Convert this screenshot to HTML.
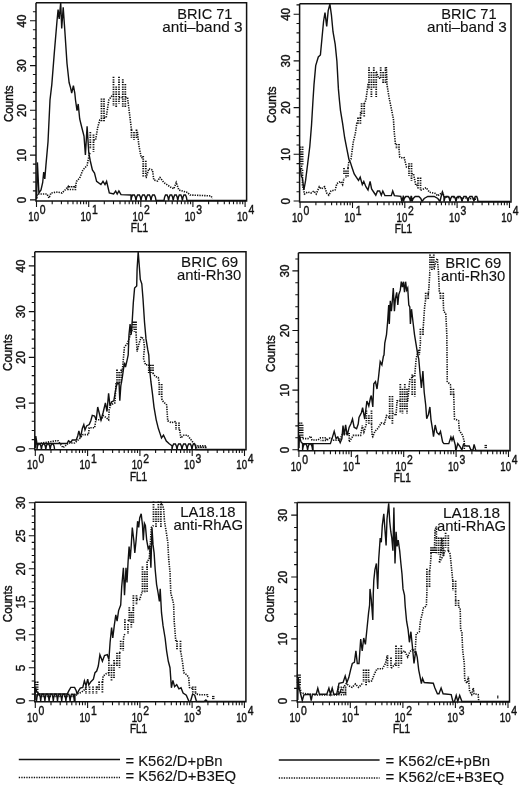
<!DOCTYPE html><html><head><meta charset="utf-8"><title>Figure</title>
<style>html,body{margin:0;padding:0;background:#fff}svg{display:block;filter:blur(.35px)}text{font-family:"Liberation Sans", sans-serif;fill:#111;stroke:#111;stroke-width:.4px}.t{stroke-width:.12px}</style></head><body>
<svg width="520" height="786" viewBox="0 0 520 786">
<rect width="520" height="786" fill="#fff"/>
<g>
<polyline points="36.6,198 37.4,194 47,194 49,198 51,193 57.5,192 62,193 65,190 68,186.7 68,189.5 75.5,189.5 75.5,186.7 68,186.7 75.5,186.7 76.5,181.4 79.7,178 82.9,170 87,165.6 89.2,155 90.3,152" fill="none" stroke="#111" stroke-width="1.6" stroke-dasharray="1.3 1.1"/>
<polyline points="93.5,140 95.6,140 97.7,127.5 99.8,120 101.5,120" fill="none" stroke="#111" stroke-width="1.6" stroke-dasharray="1.3 1.1"/>
<polyline points="104,117.5 106.2,117.5 108.8,100 112.5,95 113.5,95" fill="none" stroke="#111" stroke-width="1.6" stroke-dasharray="1.3 1.1"/>
<polyline points="119,97.5 121.2,97.5 122.8,97.5" fill="none" stroke="#111" stroke-width="1.6" stroke-dasharray="1.3 1.1"/>
<polyline points="125.3,97.5 127.5,97.5 130,117.5 131.5,130" fill="none" stroke="#111" stroke-width="1.6" stroke-dasharray="1.3 1.1"/>
<polyline points="136.5,132.5 137.5,132.5 138.8,145 141.2,157.5 143.2,158" fill="none" stroke="#111" stroke-width="1.6" stroke-dasharray="1.3 1.1"/>
<polyline points="145.8,177.5 146.2,177.5 148.8,168.8 152.5,170 153.8,180 157.5,181 160,177.5 163.8,182.5 167.5,185 171.2,187.5 173.8,188.8 176.2,182.5 178.8,190 182.5,191 187.5,192.5 190,195 208.8,195.8 211,196 212.5,198.5" fill="none" stroke="#111" stroke-width="1.6" stroke-dasharray="1.3 1.1"/>
<path d="M90.3 132V149.1M93.5 134.4V152M101.5 98.4V121.6M104 98.4V122M113.5 76.8V105.9M116.2 86.4V108M119 76.8V103.8M122.8 79.2V106.8M125.3 84V108M131.5 129.6V137.8M134 132V140M136.5 129.6V138.2M143.2 156V177.3M145.8 160.8V177.5" fill="none" stroke="#111" stroke-width="1.8" stroke-dasharray="1.3 1.1"/>
<polyline points="36.6,199 37.4,162.4 38.9,193 41,190 42.7,182.5 43.7,172 44.8,179 45.9,165.6 48,142 49,121 50,100 51.8,84.6 54.3,52.9 57,21 58.1,9.5 59.2,19 60.7,2.5 61.7,28.5 63.2,7.4 64.9,31.7 67,63.5 69.1,82.5 70.6,87.8 71.7,93 73.4,85.7 74.8,93 75.5,100 77,110.6 78.2,104 79.7,119 81.8,127.5 84,136 85.4,155 87.1,126.4 88.8,153 90.3,161 92.4,170 94.5,173 96.6,181.4 100.9,184.6 103,181.4 105,184.6 106.6,181.4 109.3,193 113.6,194 115.7,191 117.2,194 118.9,191 121,194.6 131,195 131,200.5 131.6,197.2 132.6,195 134.4,195 135.4,197.2 136,200.5 136,200.5 136.6,197.2 137.6,195 139.4,195 140.4,197.2 141,200.5 141,200.5 141.6,197.2 142.6,195 144.4,195 145.4,197.2 146,200.5 146,200.5 146.6,197.2 147.6,195 149.4,195 150.4,197.2 151,200.5 151,200.5 151.6,197.2 152.6,195 154.4,195 155.4,197.2 156,200.5 156,200.5 164,200.5 164,200.5 164.6,197.2 165.5,195 167.1,195 168,197.2 168.6,200.5 168.6,200.5 169.2,197.2 170.1,195 171.7,195 172.6,197.2 173.2,200.5 173.2,200.5 173.8,197.2 174.7,195 176.3,195 177.2,197.2 177.8,200.5 177.8,200.5 178.4,197.2 179.3,195 180.9,195 181.8,197.2 182.4,200.5 182.4,200.5 183,197.2 183.9,195 185.5,195 186.4,197.2 187,200.5 187,200.5 246,200.5" fill="none" stroke="#111" stroke-width="1.4" stroke-linejoin="miter"/>
<path d="M36 2.8V200.9H246.6V2.8H36" fill="none" stroke="#111" stroke-width="1.5"/>
<path d="M36 199.9h-6M36 190.9h-3.1M36 182h-3.1M36 173h-3.1M36 164.1h-3.1M36 155.1h-6M36 146.2h-3.1M36 137.2h-3.1M36 128.3h-3.1M36 119.3h-3.1M36 110.3h-6M36 101.4h-3.1M36 92.4h-3.1M36 83.5h-3.1M36 74.5h-3.1M36 65.6h-6M36 56.6h-3.1M36 47.6h-3.1M36 38.7h-3.1M36 29.7h-3.1M36 20.8h-6M36 11.8h-3.1" stroke="#111" stroke-width="1.1" fill="none"/>
<path d="M36.5 200.9v6.2M52.2 200.9v3.4M61.4 200.9v3.4M67.9 200.9v3.4M73 200.9v3.4M77.1 200.9v3.4M80.6 200.9v3.4M83.6 200.9v3.4M86.3 200.9v3.4M88.7 200.9v6.2M104.3 200.9v3.4M113.5 200.9v3.4M120 200.9v3.4M125.1 200.9v3.4M129.2 200.9v3.4M132.7 200.9v3.4M135.7 200.9v3.4M138.4 200.9v3.4M140.8 200.9v6.2M156.5 200.9v3.4M165.7 200.9v3.4M172.2 200.9v3.4M177.3 200.9v3.4M181.4 200.9v3.4M184.9 200.9v3.4M187.9 200.9v3.4M190.6 200.9v3.4M192.9 200.9v6.2M208.6 200.9v3.4M217.8 200.9v3.4M224.3 200.9v3.4M229.4 200.9v3.4M233.5 200.9v3.4M237 200.9v3.4M240 200.9v3.4M242.7 200.9v3.4M245.1 200.9v6.2" stroke="#111" stroke-width="1.1" fill="none"/>
<text x="39.1" y="220.6" font-size="12.2" textLength="10.8" lengthAdjust="spacingAndGlyphs" text-anchor="end">10</text>
<text x="39.8" y="214" font-size="12" textLength="5.8" lengthAdjust="spacingAndGlyphs">0</text>
<text x="91.2" y="220.6" font-size="12.2" textLength="10.8" lengthAdjust="spacingAndGlyphs" text-anchor="end">10</text>
<text x="92" y="214" font-size="12" textLength="5.8" lengthAdjust="spacingAndGlyphs">1</text>
<text x="143.4" y="220.6" font-size="12.2" textLength="10.8" lengthAdjust="spacingAndGlyphs" text-anchor="end">10</text>
<text x="144.1" y="214" font-size="12" textLength="5.8" lengthAdjust="spacingAndGlyphs">2</text>
<text x="195.5" y="220.6" font-size="12.2" textLength="10.8" lengthAdjust="spacingAndGlyphs" text-anchor="end">10</text>
<text x="196.2" y="214" font-size="12" textLength="5.8" lengthAdjust="spacingAndGlyphs">3</text>
<text x="247.7" y="220.6" font-size="12.2" textLength="10.8" lengthAdjust="spacingAndGlyphs" text-anchor="end">10</text>
<text x="248.4" y="214" font-size="12" textLength="5.8" lengthAdjust="spacingAndGlyphs">4</text>
<text x="130.8" y="232.2" font-size="12" textLength="17.2" lengthAdjust="spacingAndGlyphs">FL1</text>
<text transform="translate(26.1 200.1) rotate(-90) scale(.935 1)" font-size="12.4" text-anchor="middle">0</text>
<text transform="translate(26.1 155.3) rotate(-90) scale(.935 1)" font-size="12.4" text-anchor="middle">10</text>
<text transform="translate(26.1 110.5) rotate(-90) scale(.935 1)" font-size="12.4" text-anchor="middle">20</text>
<text transform="translate(26.1 65.8) rotate(-90) scale(.935 1)" font-size="12.4" text-anchor="middle">30</text>
<text transform="translate(26.1 21) rotate(-90) scale(.935 1)" font-size="12.4" text-anchor="middle">40</text>
<text transform="translate(12.7 103.7) rotate(-90) scale(.935 1)" font-size="12.4" text-anchor="middle">Counts</text>
<text class="t" x="177.3" y="18.7" font-size="15" textLength="55.2" lengthAdjust="spacingAndGlyphs">BRIC 71</text>
<text class="t" x="162.3" y="31.7" font-size="15" textLength="80.2" lengthAdjust="spacingAndGlyphs">anti–band 3</text>
</g>
<g>
<polyline points="302.6,169.8 302.4,184.6 304.5,194 307.7,192 310.9,193 314,191 316.2,194 319.3,186.7 321.4,188.9 324.6,186.7 326.7,193 328.8,195.2 331,191 335.2,189.9 336.9,183.6 340.5,181.4 342.6,184.6 344,178" fill="none" stroke="#111" stroke-width="1.6" stroke-dasharray="1.3 1.1"/>
<polyline points="348,168 348.9,161.3 351,159.2 353.2,142.3 355.3,133.8 356.8,123.3 358,123.3" fill="none" stroke="#111" stroke-width="1.6" stroke-dasharray="1.3 1.1"/>
<polyline points="360.4,118 360.6,112.7 361.6,112.7" fill="none" stroke="#111" stroke-width="1.6" stroke-dasharray="1.3 1.1"/>
<polyline points="364.2,104 365.9,100 368,84.6 369,84.6" fill="none" stroke="#111" stroke-width="1.6" stroke-dasharray="1.3 1.1"/>
<polyline points="376.2,72 376.4,72 378.6,78.3 380.7,78.3" fill="none" stroke="#111" stroke-width="1.6" stroke-dasharray="1.3 1.1"/>
<polyline points="385.5,67.7 386.4,67.7 387,84.6 389,97.3 391.3,108.5 393.4,119 394.4,133.8 395.5,144.4 396.5,144.4" fill="none" stroke="#111" stroke-width="1.6" stroke-dasharray="1.3 1.1"/>
<polyline points="399,149 399.7,157 402.9,158.2 404.2,157.7 406.5,167 409,167" fill="none" stroke="#111" stroke-width="1.6" stroke-dasharray="1.3 1.1"/>
<polyline points="411.5,173.8 413.5,173.8 415.8,185.4 418,185.4" fill="none" stroke="#111" stroke-width="1.6" stroke-dasharray="1.3 1.1"/>
<polyline points="420.5,190 421.5,190 426.2,187.7 429.6,192.3 435.4,193.5 437.7,195.8 442.3,192.3 444.6,197 455,197.5 466,198 478,199.5" fill="none" stroke="#111" stroke-width="1.6" stroke-dasharray="1.3 1.1"/>
<path d="M300.4 146.4V164.2M301.5 151.2V169.8M302.6 146.4V164.7M344 168V175.2M346 170.4V178M348 168V177.3M358 117.6V124M360.4 117.6V124M361.6 103.2V115.5M364.2 103.2V117M369 67.2V89.1M371.4 72V97M373.8 67.2V88.3M376.2 72V97M380.7 67.2V79.3M383.1 72V84M385.5 67.2V83M396.5 144V149M399 144V149M409 163.2V176M411.5 163.2V180.8M418 177.6V189.5M420.5 177.6V190" fill="none" stroke="#111" stroke-width="1.8" stroke-dasharray="1.3 1.1"/>
<polyline points="300.3,167.7 301.3,176 302.4,178 303.9,190 305.6,180.4 307.7,163.5 309.8,146.5 311.5,125.4 313,100 314,84.6 315.7,65.6 318.3,57 320.4,55 322,38 323.6,21 325,12.7 326.7,26.4 328.2,10.6 329.9,4.2 331.4,14.8 333,31.7 335.2,44.4 336.9,61.3 338.4,88.9 339.4,100 340.5,110.6 342.6,123.3 344.7,138 346.8,148.7 348.9,159.2 350.4,162.4 352.1,167.7 354.2,174 356.3,177.2 358.5,180.4 360.2,177.2 362.3,184.6 363.8,181.4 365.9,186.7 368,189.9 370.1,181.4 371.6,188.9 374.3,193 375.8,195.2 377.5,191 379.6,191 381.3,195.2 382.8,191 384.9,195.6 391.3,195.6 392.7,191 394.4,195.6 400.8,196.3 401.8,201 403.3,196.3 403.5,196.5 403.5,201.5 404.3,198.5 405.7,196.5 408.3,196.5 409.7,198.5 410.5,201.5 410.5,201.5 410.7,198.5 411,196.5 411.5,196.5 411.8,198.5 412,201.5 412,201.5 413.2,198.5 415.2,196.5 418.8,196.5 420.8,198.5 422,201.5 422,201.5 424.2,198.5 427.8,196.5 434.2,196.5 437.8,198.5 440,201.5 441,197 442.5,192 444,197 444,201.5 444.7,198.5 445.9,196.5 448.1,196.5 449.3,198.5 450,201.5 450,201.5 450.7,198.5 451.9,196.5 454.1,196.5 455.3,198.5 456,201.5 456,201.5 456.7,198.5 457.9,196.5 460.1,196.5 461.3,198.5 462,201.5 462,201.5 462.7,198.5 463.9,196.5 466.1,196.5 467.3,198.5 468,201.5 468,201.5 468.7,198.5 469.9,196.5 472.1,196.5 473.3,198.5 474,201.5 474,201.5 474.5,198.5 475.3,196.5 476.7,196.5 477.5,198.5 478,201.5 478,201.5 510,201.5" fill="none" stroke="#111" stroke-width="1.4" stroke-linejoin="miter"/>
<path d="M299.6 3.8V201.9H511V3.8H299.6" fill="none" stroke="#111" stroke-width="1.5"/>
<path d="M299.6 201h-6M299.6 191.7h-3.1M299.6 182.3h-3.1M299.6 173h-3.1M299.6 163.6h-3.1M299.6 154.3h-6M299.6 145h-3.1M299.6 135.6h-3.1M299.6 126.3h-3.1M299.6 116.9h-3.1M299.6 107.6h-6M299.6 98.3h-3.1M299.6 88.9h-3.1M299.6 79.6h-3.1M299.6 70.2h-3.1M299.6 60.9h-6M299.6 51.6h-3.1M299.6 42.2h-3.1M299.6 32.9h-3.1M299.6 23.5h-3.1M299.6 14.2h-6M299.6 4.9h-3.1" stroke="#111" stroke-width="1.1" fill="none"/>
<path d="M300.1 201.9v6.2M315.9 201.9v3.4M325.1 201.9v3.4M331.6 201.9v3.4M336.7 201.9v3.4M340.8 201.9v3.4M344.3 201.9v3.4M347.4 201.9v3.4M350.1 201.9v3.4M352.5 201.9v6.2M368.2 201.9v3.4M377.4 201.9v3.4M384 201.9v3.4M389 201.9v3.4M393.2 201.9v3.4M396.7 201.9v3.4M399.7 201.9v3.4M402.4 201.9v3.4M404.8 201.9v6.2M420.6 201.9v3.4M429.8 201.9v3.4M436.3 201.9v3.4M441.4 201.9v3.4M445.5 201.9v3.4M449 201.9v3.4M452.1 201.9v3.4M454.8 201.9v3.4M457.1 201.9v6.2M472.9 201.9v3.4M482.1 201.9v3.4M488.7 201.9v3.4M493.7 201.9v3.4M497.9 201.9v3.4M501.4 201.9v3.4M504.4 201.9v3.4M507.1 201.9v3.4M509.5 201.9v6.2" stroke="#111" stroke-width="1.1" fill="none"/>
<text x="302.7" y="221.6" font-size="12.2" textLength="10.8" lengthAdjust="spacingAndGlyphs" text-anchor="end">10</text>
<text x="303.4" y="215" font-size="12" textLength="5.8" lengthAdjust="spacingAndGlyphs">0</text>
<text x="355.1" y="221.6" font-size="12.2" textLength="10.8" lengthAdjust="spacingAndGlyphs" text-anchor="end">10</text>
<text x="355.8" y="215" font-size="12" textLength="5.8" lengthAdjust="spacingAndGlyphs">1</text>
<text x="407.4" y="221.6" font-size="12.2" textLength="10.8" lengthAdjust="spacingAndGlyphs" text-anchor="end">10</text>
<text x="408.1" y="215" font-size="12" textLength="5.8" lengthAdjust="spacingAndGlyphs">2</text>
<text x="459.8" y="221.6" font-size="12.2" textLength="10.8" lengthAdjust="spacingAndGlyphs" text-anchor="end">10</text>
<text x="460.4" y="215" font-size="12" textLength="5.8" lengthAdjust="spacingAndGlyphs">3</text>
<text x="512.1" y="221.6" font-size="12.2" textLength="10.8" lengthAdjust="spacingAndGlyphs" text-anchor="end">10</text>
<text x="512.8" y="215" font-size="12" textLength="5.8" lengthAdjust="spacingAndGlyphs">4</text>
<text x="394.8" y="233.2" font-size="12" textLength="17.2" lengthAdjust="spacingAndGlyphs">FL1</text>
<text transform="translate(289.7 201.2) rotate(-90) scale(.935 1)" font-size="12.4" text-anchor="middle">0</text>
<text transform="translate(289.7 154.5) rotate(-90) scale(.935 1)" font-size="12.4" text-anchor="middle">10</text>
<text transform="translate(289.7 107.8) rotate(-90) scale(.935 1)" font-size="12.4" text-anchor="middle">20</text>
<text transform="translate(289.7 61.1) rotate(-90) scale(.935 1)" font-size="12.4" text-anchor="middle">30</text>
<text transform="translate(289.7 14.4) rotate(-90) scale(.935 1)" font-size="12.4" text-anchor="middle">40</text>
<text transform="translate(276.3 104.7) rotate(-90) scale(.935 1)" font-size="12.4" text-anchor="middle">Counts</text>
<text class="t" x="441.3" y="18.8" font-size="15" textLength="55.3" lengthAdjust="spacingAndGlyphs">BRIC 71</text>
<text class="t" x="426.9" y="31.7" font-size="15" textLength="79.9" lengthAdjust="spacingAndGlyphs">anti–band 3</text>
</g>
<g>
<polyline points="36,444 56,440.8 58,440.8 63,447.7 68.5,443 74.6,443 79.2,439 83,434.6 88.5,434.6 89.2,427.7 94.6,427.7 95.9,419.8 101.2,419.8 103.3,415.6 106.4,417.7 108.6,419.8 109.2,409.2 110.7,405 114.9,402.9 116,383.8 117,383.8" fill="none" stroke="#111" stroke-width="1.6" stroke-dasharray="1.3 1.1"/>
<polyline points="121.2,371 122.3,371 123.4,358.5 124.4,347.3 127.6,343 129.7,336.7 131.8,330.4 132.9,330.4" fill="none" stroke="#111" stroke-width="1.6" stroke-dasharray="1.3 1.1"/>
<polyline points="136,332 136,332.5 137.1,351.5 139.2,343 141.3,336.7 143.5,338.9 144.5,347.3 143.5,358.5 145.6,364.8 148.8,365" fill="none" stroke="#111" stroke-width="1.6" stroke-dasharray="1.3 1.1"/>
<polyline points="153,373 153,373.3 155.1,376.4 158.3,377.5 159.3,384" fill="none" stroke="#111" stroke-width="1.6" stroke-dasharray="1.3 1.1"/>
<polyline points="161.7,398.7 162.5,400.8 166.7,405 167.7,420.8 171.2,422.7 175,421.7 176,423" fill="none" stroke="#111" stroke-width="1.6" stroke-dasharray="1.3 1.1"/>
<polyline points="179,430 179.8,430.4 180.8,438 183.7,435.2 187.5,435.2 190.4,439 193.3,442.9 196.2,445.8 205.8,445.8 205.8,447.3 196.2,447.3 205.8,447.3 205.8,449" fill="none" stroke="#111" stroke-width="1.6" stroke-dasharray="1.3 1.1"/>
<path d="M117 369.6V383.8M119.1 372V384M121.2 369.6V382.7M132.9 321.6V329.1M134.4 321.6V332M136 321.6V331.8M148.8 364.8V372.9M150.9 364.8V373M153 364.8V372.6M159.3 384V394.9M161.7 384V398.7M176 422.4V430M179 422.4V430" fill="none" stroke="#111" stroke-width="1.8" stroke-dasharray="1.3 1.1"/>
<polyline points="35.2,448 35.8,436 36.9,443 37,443.5 54.6,443.5 67,443.5 68.5,440.8 70.8,442.3 72.3,440 76.2,440 77.7,436 78.9,430.8 80.5,437.7 82.3,428.5 83.8,424.6 85,430 86.6,426 89.2,424.6 90.8,420.8 92.3,415.4 94.6,416 96.2,420 97.7,407 99.2,413 101,420 103,413 105.4,403 107,411.5 108.6,393.4 110,406 111.7,401.8 113.8,400.8 116,388 117,383.8 119.1,383.8 119.8,400.8 120.8,386 122.3,377.5 124.4,362.7 125.5,367 127,360.6 128.2,355 129,334.6 130.1,324 131.2,334.6 132.3,319.8 133.3,302.9 134.6,288 136.7,286 137.1,269 138.2,251.7 139.2,264.8 140.3,279.6 141.8,283.8 143,298.7 144.5,322 146,338.9 147.7,349.4 148.8,355 149.4,367 150.9,381.7 152.3,392.3 154,407.1 156.2,419.8 158.3,428.3 160.4,434.6 161.5,438 163.5,435.2 166.3,441 169.2,443.8 172,445.8 172,449.5 172.6,446.2 173.6,444 175.4,444 176.4,446.2 177,449.5 177,449.5 177.6,446.2 178.6,444 180.4,444 181.4,446.2 182,449.5 182,449.5 182.6,446.2 183.6,444 185.4,444 186.4,446.2 187,449.5 187,449.5 187.6,446.2 188.6,444 190.4,444 191.4,446.2 192,449.5 192,449.5 192.5,446.2 193.3,444 194.7,444 195.5,446.2 196,449.5 196,449.5 245,449.5" fill="none" stroke="#111" stroke-width="1.4" stroke-linejoin="miter"/>
<polyline points="37,443.5 37,449.5 37.5,446.2 38.4,444 40,444 40.9,446.2 41.4,449.5 41.4,449.5 41.9,446.2 42.8,444 44.4,444 45.3,446.2 45.8,449.5 45.8,449.5 46.3,446.2 47.2,444 48.8,444 49.7,446.2 50.2,449.5 50.2,449.5 50.7,446.2 51.6,444 53.2,444 54.1,446.2 54.6,449.5" fill="none" stroke="#111" stroke-width="1.4" stroke-linejoin="miter"/>
<path d="M34.8 251.8V449.7H246V251.8H34.8" fill="none" stroke="#111" stroke-width="1.5"/>
<path d="M34.8 448.8h-6M34.8 439.6h-3.1M34.8 430.5h-3.1M34.8 421.3h-3.1M34.8 412.2h-3.1M34.8 403.1h-6M34.8 393.9h-3.1M34.8 384.8h-3.1M34.8 375.6h-3.1M34.8 366.5h-3.1M34.8 357.4h-6M34.8 348.2h-3.1M34.8 339.1h-3.1M34.8 329.9h-3.1M34.8 320.8h-3.1M34.8 311.6h-6M34.8 302.5h-3.1M34.8 293.4h-3.1M34.8 284.2h-3.1M34.8 275.1h-3.1M34.8 265.9h-6M34.8 256.8h-3.1" stroke="#111" stroke-width="1.1" fill="none"/>
<path d="M35.3 449.7v6.2M51 449.7v3.4M60.3 449.7v3.4M66.8 449.7v3.4M71.9 449.7v3.4M76 449.7v3.4M79.5 449.7v3.4M82.5 449.7v3.4M85.2 449.7v3.4M87.6 449.7v6.2M103.3 449.7v3.4M112.6 449.7v3.4M119.1 449.7v3.4M124.2 449.7v3.4M128.3 449.7v3.4M131.8 449.7v3.4M134.8 449.7v3.4M137.5 449.7v3.4M139.9 449.7v6.2M155.6 449.7v3.4M164.9 449.7v3.4M171.4 449.7v3.4M176.5 449.7v3.4M180.6 449.7v3.4M184.1 449.7v3.4M187.1 449.7v3.4M189.8 449.7v3.4M192.2 449.7v6.2M207.9 449.7v3.4M217.2 449.7v3.4M223.7 449.7v3.4M228.8 449.7v3.4M232.9 449.7v3.4M236.4 449.7v3.4M239.4 449.7v3.4M242.1 449.7v3.4M244.5 449.7v6.2" stroke="#111" stroke-width="1.1" fill="none"/>
<text x="37.9" y="469.4" font-size="12.2" textLength="10.8" lengthAdjust="spacingAndGlyphs" text-anchor="end">10</text>
<text x="38.6" y="462.8" font-size="12" textLength="5.8" lengthAdjust="spacingAndGlyphs">0</text>
<text x="90.2" y="469.4" font-size="12.2" textLength="10.8" lengthAdjust="spacingAndGlyphs" text-anchor="end">10</text>
<text x="90.9" y="462.8" font-size="12" textLength="5.8" lengthAdjust="spacingAndGlyphs">1</text>
<text x="142.5" y="469.4" font-size="12.2" textLength="10.8" lengthAdjust="spacingAndGlyphs" text-anchor="end">10</text>
<text x="143.2" y="462.8" font-size="12" textLength="5.8" lengthAdjust="spacingAndGlyphs">2</text>
<text x="194.8" y="469.4" font-size="12.2" textLength="10.8" lengthAdjust="spacingAndGlyphs" text-anchor="end">10</text>
<text x="195.5" y="462.8" font-size="12" textLength="5.8" lengthAdjust="spacingAndGlyphs">3</text>
<text x="247.1" y="469.4" font-size="12.2" textLength="10.8" lengthAdjust="spacingAndGlyphs" text-anchor="end">10</text>
<text x="247.8" y="462.8" font-size="12" textLength="5.8" lengthAdjust="spacingAndGlyphs">4</text>
<text x="129.9" y="481" font-size="12" textLength="17.2" lengthAdjust="spacingAndGlyphs">FL1</text>
<text transform="translate(24.9 448.9) rotate(-90) scale(.935 1)" font-size="12.4" text-anchor="middle">0</text>
<text transform="translate(24.9 403.2) rotate(-90) scale(.935 1)" font-size="12.4" text-anchor="middle">10</text>
<text transform="translate(24.9 357.6) rotate(-90) scale(.935 1)" font-size="12.4" text-anchor="middle">20</text>
<text transform="translate(24.9 311.8) rotate(-90) scale(.935 1)" font-size="12.4" text-anchor="middle">30</text>
<text transform="translate(24.9 266.1) rotate(-90) scale(.935 1)" font-size="12.4" text-anchor="middle">40</text>
<text transform="translate(11.5 352.6) rotate(-90) scale(.935 1)" font-size="12.4" text-anchor="middle">Counts</text>
<text class="t" x="181.1" y="267.2" font-size="15" textLength="57.2" lengthAdjust="spacingAndGlyphs">BRIC 69</text>
<text class="t" x="176.9" y="280.3" font-size="15" textLength="64.3" lengthAdjust="spacingAndGlyphs">anti-Rh30</text>
</g>
<g>
<polyline points="302.6,438.6 302.6,438.6 308,438.6 310.8,436.2 312,440 318,440 320.6,437.8 326.3,437.8 326.3,440.5 320.6,440.5 326.3,440.5 330,438 333.7,440.3 339.4,440.3 342.7,433.7 349.2,433.7 349.2,442 353.3,435.4 360.6,435.4 362.3,425.6 363.9,432 366.4,424" fill="none" stroke="#111" stroke-width="1.6" stroke-dasharray="1.3 1.1"/>
<polyline points="371.5,424 372.1,435.4 372.8,436.7 374.9,431.4 378,428.3 381.3,423 384.4,424 386.5,415.6 389.7,417.7 389.7,417.7" fill="none" stroke="#111" stroke-width="1.6" stroke-dasharray="1.3 1.1"/>
<polyline points="392.4,413.5 394,413.5 396,415.6 397.1,400.8 400.3,400.8 400.3,400.8" fill="none" stroke="#111" stroke-width="1.6" stroke-dasharray="1.3 1.1"/>
<polyline points="407,400.8 407.7,400.8 409.8,379.6 413,376.4 412.2,376.4" fill="none" stroke="#111" stroke-width="1.6" stroke-dasharray="1.3 1.1"/>
<polyline points="414.8,376.4 415.1,371 416.2,358.5 418.3,350 419.3,355 420.4,343 420.4,336" fill="none" stroke="#111" stroke-width="1.6" stroke-dasharray="1.3 1.1"/>
<polyline points="423,330.4 423.6,322 424.6,307 425.7,299" fill="none" stroke="#111" stroke-width="1.6" stroke-dasharray="1.3 1.1"/>
<polyline points="428.2,295 428.9,288 429.9,271 430,271" fill="none" stroke="#111" stroke-width="1.6" stroke-dasharray="1.3 1.1"/>
<polyline points="433.8,269 434.1,269 435.6,262.7 437.3,258.5 438.4,271 439.4,292.3 440.5,294" fill="none" stroke="#111" stroke-width="1.6" stroke-dasharray="1.3 1.1"/>
<polyline points="443.2,300 443.7,311.3 445.8,313.5 446.8,334.6 447.2,370 447.2,381.4 450.4,384.7 450.8,390" fill="none" stroke="#111" stroke-width="1.6" stroke-dasharray="1.3 1.1"/>
<polyline points="453.4,394.5 453.7,394.5 454.5,419 458.6,420.7 459.4,430.5 462.7,435.4 464.3,441.9 464.3,450" fill="none" stroke="#111" stroke-width="1.6" stroke-dasharray="1.3 1.1"/>
<path d="M299.4 422.4V436M300.5 424.8V438.6M301.5 422.4V436.4M302.6 424.8V438.6M366.4 410.4V423M368.9 415.2V424M371.5 410.4V424M389.7 396V419.2M392.4 396V424M400.3 384V413M402.5 388.8V413.5M404.8 384V410.4M407 388.8V413.5M412.2 374.4V396.1M414.8 379.2V396.5M420.4 328.8V336M423 328.8V336M425.7 292.8V299M428.2 292.8V299M430 254.4V269.2M431.9 256.8V271M433.8 254.4V267.5M440.5 292.8V300M443.2 292.8V300M450.8 388.8V396M453.4 388.8V396" fill="none" stroke="#111" stroke-width="1.8" stroke-dasharray="1.3 1.1"/>
<path d="M484.5 445.5L487 445.5" stroke="#1a1a1a" stroke-width="1.2" fill="none"/>
<path d="M484.5 447.5L487 447.5" stroke="#1a1a1a" stroke-width="1.2" fill="none"/>
<polyline points="299,448 299.4,435.4 301,442 302.6,443.6 313,443.6 330.4,443.6 332,438.6 334.2,431.3 336.1,438.6 337.8,437 340.2,442.7 341.9,438.6 343,425.6 344.3,435.4 345.6,424.8 347.2,435.4 349.2,427.2 350.8,424 352.5,419 354.1,427.2 356.6,428.8 358.2,424 359,417.4 361.5,412.5 362.6,407.6 364.7,419 366.9,401 368.8,406 370.5,397.8 371.3,395.5 372.8,407 373.8,383.8 375.5,381.7 377,389 378.5,377.5 380.2,361.6 381.9,364.8 383.4,356.3 384,355 384.8,343 386.5,334.6 387.6,322 388.7,305 389.3,324 390.3,300.8 391.4,311.3 392.5,298.7 393.3,288 394.4,311.3 395.4,298.7 396.7,292.3 397.8,305 398.8,294.4 400.3,290.2 401.3,281.7 402.4,287 403.5,281.7 404.5,292.3 405.6,281.7 406.6,290.2 407.7,288 408.8,305 409.8,307 410.4,324 411.5,309.2 413,322 414.5,334.6 416.2,345.2 417.8,355 418.7,358.5 420,373.3 421.4,388 422.9,371 424.2,392.3 425.7,405 426.7,418.7 428.4,414.5 429.9,407 431,419.8 432.7,430.4 433.5,436.7 435.2,425 436.9,432.5 439,434.6 440.5,431.4 442.6,442 443.9,443.6 448.8,443.6 450.9,437 452,440.3 453.2,437 455.3,445.2 455.8,450.9 457.8,443.6 460.2,446.8 461.9,450 463.5,444.4 466,446 469.2,446 470.9,450 473,450 474.1,444.4 475.8,450.5 509,450.5" fill="none" stroke="#111" stroke-width="1.4" stroke-linejoin="miter"/>
<polyline points="302.6,443.6 302.6,450 303.2,446.4 304.2,444 306,444 307,446.4 307.6,450 307.6,450 308.2,446.4 309.2,444 311,444 312,446.4 312.6,450 312.6,450 312.6,446.4 312.7,444 312.9,444 313,446.4 313,450" fill="none" stroke="#111" stroke-width="1.4" stroke-linejoin="miter"/>
<path d="M298.4 252.8V450.8H510V252.8H298.4" fill="none" stroke="#111" stroke-width="1.5"/>
<path d="M298.4 449.7h-6M298.4 437.8h-3.1M298.4 425.9h-3.1M298.4 413.9h-3.1M298.4 402h-3.1M298.4 390.1h-6M298.4 378.2h-3.1M298.4 366.3h-3.1M298.4 354.3h-3.1M298.4 342.4h-3.1M298.4 330.5h-6M298.4 318.6h-3.1M298.4 306.7h-3.1M298.4 294.7h-3.1M298.4 282.8h-3.1M298.4 270.9h-6M298.4 259h-3.1" stroke="#111" stroke-width="1.1" fill="none"/>
<path d="M298.9 450.8v6.2M314.7 450.8v3.4M323.9 450.8v3.4M330.4 450.8v3.4M335.5 450.8v3.4M339.7 450.8v3.4M343.2 450.8v3.4M346.2 450.8v3.4M348.9 450.8v3.4M351.3 450.8v6.2M367.1 450.8v3.4M376.3 450.8v3.4M382.8 450.8v3.4M387.9 450.8v3.4M392.1 450.8v3.4M395.6 450.8v3.4M398.6 450.8v3.4M401.3 450.8v3.4M403.7 450.8v6.2M419.5 450.8v3.4M428.7 450.8v3.4M435.2 450.8v3.4M440.3 450.8v3.4M444.5 450.8v3.4M448 450.8v3.4M451 450.8v3.4M453.7 450.8v3.4M456.1 450.8v6.2M471.9 450.8v3.4M481.1 450.8v3.4M487.6 450.8v3.4M492.7 450.8v3.4M496.9 450.8v3.4M500.4 450.8v3.4M503.4 450.8v3.4M506.1 450.8v3.4M508.5 450.8v6.2" stroke="#111" stroke-width="1.1" fill="none"/>
<text x="301.5" y="470.5" font-size="12.2" textLength="10.8" lengthAdjust="spacingAndGlyphs" text-anchor="end">10</text>
<text x="302.2" y="463.9" font-size="12" textLength="5.8" lengthAdjust="spacingAndGlyphs">0</text>
<text x="353.9" y="470.5" font-size="12.2" textLength="10.8" lengthAdjust="spacingAndGlyphs" text-anchor="end">10</text>
<text x="354.6" y="463.9" font-size="12" textLength="5.8" lengthAdjust="spacingAndGlyphs">1</text>
<text x="406.3" y="470.5" font-size="12.2" textLength="10.8" lengthAdjust="spacingAndGlyphs" text-anchor="end">10</text>
<text x="407" y="463.9" font-size="12" textLength="5.8" lengthAdjust="spacingAndGlyphs">2</text>
<text x="458.7" y="470.5" font-size="12.2" textLength="10.8" lengthAdjust="spacingAndGlyphs" text-anchor="end">10</text>
<text x="459.4" y="463.9" font-size="12" textLength="5.8" lengthAdjust="spacingAndGlyphs">3</text>
<text x="511.1" y="470.5" font-size="12.2" textLength="10.8" lengthAdjust="spacingAndGlyphs" text-anchor="end">10</text>
<text x="511.8" y="463.9" font-size="12" textLength="5.8" lengthAdjust="spacingAndGlyphs">4</text>
<text x="393.7" y="482.1" font-size="12" textLength="17.2" lengthAdjust="spacingAndGlyphs">FL1</text>
<text transform="translate(288.5 449.9) rotate(-90) scale(.935 1)" font-size="12.4" text-anchor="middle">0</text>
<text transform="translate(288.5 390.3) rotate(-90) scale(.935 1)" font-size="12.4" text-anchor="middle">10</text>
<text transform="translate(288.5 330.7) rotate(-90) scale(.935 1)" font-size="12.4" text-anchor="middle">20</text>
<text transform="translate(288.5 271.1) rotate(-90) scale(.935 1)" font-size="12.4" text-anchor="middle">30</text>
<text transform="translate(275.1 353.6) rotate(-90) scale(.935 1)" font-size="12.4" text-anchor="middle">Counts</text>
<text class="t" x="445.2" y="267.8" font-size="15" textLength="56.2" lengthAdjust="spacingAndGlyphs">BRIC 69</text>
<text class="t" x="440.9" y="281.1" font-size="15" textLength="64.3" lengthAdjust="spacingAndGlyphs">anti-Rh30</text>
</g>
<g>
<polyline points="37.6,692.3 40,696.4 67.2,696.4 74.6,696.4 77,694 81.1,692.3 83.6,690.7 86,687.4 86,687.4" fill="none" stroke="#111" stroke-width="1.6" stroke-dasharray="1.3 1.1"/>
<polyline points="96.5,687.4 97.5,687.4 99.1,687.4" fill="none" stroke="#111" stroke-width="1.6" stroke-dasharray="1.3 1.1"/>
<polyline points="102.4,682.5 103.2,676 106.5,673.5 108.9,672.7 108.9,672.7" fill="none" stroke="#111" stroke-width="1.6" stroke-dasharray="1.3 1.1"/>
<polyline points="114,663.5 116.4,663.5 117,663.5" fill="none" stroke="#111" stroke-width="1.6" stroke-dasharray="1.3 1.1"/>
<polyline points="119.5,652.9 120.7,651" fill="none" stroke="#111" stroke-width="1.6" stroke-dasharray="1.3 1.1"/>
<polyline points="123.2,642.3 123.8,636 124.9,634" fill="none" stroke="#111" stroke-width="1.6" stroke-dasharray="1.3 1.1"/>
<polyline points="128,621 129.1,619 129.3,619" fill="none" stroke="#111" stroke-width="1.6" stroke-dasharray="1.3 1.1"/>
<polyline points="133.3,608.5 133.4,604.2 133.4,604.2" fill="none" stroke="#111" stroke-width="1.6" stroke-dasharray="1.3 1.1"/>
<polyline points="136.5,599.4 139.7,599.4 141.8,593 142.5,593" fill="none" stroke="#111" stroke-width="1.6" stroke-dasharray="1.3 1.1"/>
<polyline points="147.1,567.7 147.1,561.3 149.2,559.2 150.3,544.4 151.3,527.5 153.5,525.4 153.5,525.4" fill="none" stroke="#111" stroke-width="1.6" stroke-dasharray="1.3 1.1"/>
<polyline points="160.9,504.2 160.9,504.2 161.9,503.2 163.6,508.5 164.5,521.2 166.2,531.7 167.8,542.3 168.7,559.2 170,572 170.8,593 172.5,599.4 173.6,604.2 174.2,621.2 175.7,640.2 177,641" fill="none" stroke="#111" stroke-width="1.6" stroke-dasharray="1.3 1.1"/>
<polyline points="180.5,651 181,652.9 182.7,663.5 183.8,672.7 187,675 188.7,677.6 189.5,687.4 192.8,688.5" fill="none" stroke="#111" stroke-width="1.6" stroke-dasharray="1.3 1.1"/>
<polyline points="195.4,692.5 196,694 200.1,694.8 207.5,694.8 207.8,697.2" fill="none" stroke="#111" stroke-width="1.6" stroke-dasharray="1.3 1.1"/>
<path d="M35.4 681.6V691.3M36.5 684V692.3M37.6 681.6V691.8M86 686.4V694M89.5 686.4V694M93 686.4V694M96.5 686.4V694M99.1 681.6V690.4M102.4 681.6V693M108.9 660V676.7M111.5 664.8V680.4M114 660V678.7M117 652.8V666.8M119.5 652.8V668M120.7 640.8V649.9M123.2 643.2V651M124.9 619.2V630.3M128 624V634M129.3 607.2V622.1M131.3 612V627.5M133.3 607.2V622.7M133.4 595.2V603.5M136.5 595.2V605M142.5 566.4V592.5M144.8 571.2V593M147.1 566.4V592.7M153.5 501.6V522.5M156 508.8V527.5M158.4 501.6V523.3M160.9 501.6V527.5M177 640.8V650.1M180.5 640.8V651M192.8 686.4V692.5M195.4 686.4V692.5" fill="none" stroke="#111" stroke-width="1.8" stroke-dasharray="1.3 1.1"/>
<path d="M212 696.5L214.5 696.5" stroke="#1a1a1a" stroke-width="1.2" fill="none"/>
<path d="M212 698.5L214.5 698.5" stroke="#1a1a1a" stroke-width="1.2" fill="none"/>
<polyline points="35,700 35.4,687.4 37,692.3 39.4,694 67.2,694 68.9,690.7 70.8,687.4 74.6,687.4 76.2,690.7 77,694 78.7,690.7 80.3,688.2 82.8,687.4 84.4,680.9 86,685.8 87.7,679.2 88.8,685 90.9,681.7 93.4,679.2 95,672.7 96.7,671 98.3,666 99.9,654.7 102.4,661.2 104.5,655.5 107.3,654.7 108.9,659.6 110.1,642.3 111.6,627.5 112.8,638 114.3,625.4 115.8,614.8 117.1,621.2 118.6,610.6 120.7,605 121.7,586.7 123.4,567.7 124.5,595.2 126,567.7 127,582.5 128.1,561.3 129.1,546.5 130.2,559.2 131.3,544.4 132.3,527.5 133.8,540.2 134.8,552.9 136.1,540.2 137.6,521.2 138.7,527.5 139.7,518 141.2,513.8 142.5,525.4 143.3,540.2 144.4,523.3 145.4,525.4 146.7,540.2 148.2,548.7 149.7,545.5 150.9,567.7 152,527.5 153,544.4 154.1,552.9 155.2,569.8 156.6,584.6 158.1,593 159.4,601.5 160.2,588.9 161.5,612.7 163,625.4 165.1,638 166.6,650.8 168.3,661.3 170,667.7 171.4,687.8 172.9,680.4 174.6,686.7 176.7,684.6 178.9,688.9 181,687.8 183.1,693 186.3,695.2 189,701.5 190.5,701.5 192.6,694 194.7,695.2 196.5,701.5 204,701.5 205.9,700 207.5,701.5 245,701.5" fill="none" stroke="#111" stroke-width="1.4" stroke-linejoin="miter"/>
<polyline points="37,694 36.5,701 37,697 37.8,694.3 39.4,694.3 40.2,697 40.7,701 40.7,701 41.2,697 42,694.3 43.6,694.3 44.4,697 44.9,701 44.9,701 45.4,697 46.2,694.3 47.8,694.3 48.6,697 49.1,701 49.1,701 49.6,697 50.4,694.3 52,694.3 52.8,697 53.3,701 53.3,701 53.8,697 54.6,694.3 56.2,694.3 57,697 57.5,701 57.5,701 58,697 58.8,694.3 60.4,694.3 61.2,697 61.7,701 61.7,701 62.2,697 63,694.3 64.6,694.3 65.4,697 65.9,701 65.9,701 66.4,697 67.2,694.3 68.8,694.3 69.6,697 70.1,701 70.1,701 70.6,697 71.4,694.3 73,694.3 73.8,697 74.3,701 74.3,701 74.4,697 74.5,694.3 74.8,694.3 74.9,697 75,701" fill="none" stroke="#111" stroke-width="1.4" stroke-linejoin="miter"/>
<path d="M34.8 502.2V701.8H245.9V502.2H34.8" fill="none" stroke="#111" stroke-width="1.5"/>
<path d="M34.8 700.8h-6M34.8 694.1h-3.1M34.8 687.5h-3.1M34.8 681h-3.1M34.8 674.4h-3.1M34.8 667.8h-6M34.8 661.1h-3.1M34.8 654.5h-3.1M34.8 648h-3.1M34.8 641.4h-3.1M34.8 634.8h-6M34.8 628.1h-3.1M34.8 621.5h-3.1M34.8 615h-3.1M34.8 608.4h-3.1M34.8 601.8h-6M34.8 595.1h-3.1M34.8 588.5h-3.1M34.8 582h-3.1M34.8 575.4h-3.1M34.8 568.8h-6M34.8 562.1h-3.1M34.8 555.5h-3.1M34.8 549h-3.1M34.8 542.4h-3.1M34.8 535.8h-6M34.8 529.1h-3.1M34.8 522.5h-3.1M34.8 516h-3.1M34.8 509.4h-3.1M34.8 502.8h-6" stroke="#111" stroke-width="1.1" fill="none"/>
<path d="M35.3 701.8v6.2M51 701.8v3.4M60.2 701.8v3.4M66.8 701.8v3.4M71.8 701.8v3.4M76 701.8v3.4M79.5 701.8v3.4M82.5 701.8v3.4M85.2 701.8v3.4M87.6 701.8v6.2M103.3 701.8v3.4M112.5 701.8v3.4M119 701.8v3.4M124.1 701.8v3.4M128.3 701.8v3.4M131.8 701.8v3.4M134.8 701.8v3.4M137.5 701.8v3.4M139.9 701.8v6.2M155.6 701.8v3.4M164.8 701.8v3.4M171.3 701.8v3.4M176.4 701.8v3.4M180.5 701.8v3.4M184 701.8v3.4M187.1 701.8v3.4M189.7 701.8v3.4M192.1 701.8v6.2M207.9 701.8v3.4M217.1 701.8v3.4M223.6 701.8v3.4M228.7 701.8v3.4M232.8 701.8v3.4M236.3 701.8v3.4M239.3 701.8v3.4M242 701.8v3.4M244.4 701.8v6.2" stroke="#111" stroke-width="1.1" fill="none"/>
<text x="37.9" y="721.5" font-size="12.2" textLength="10.8" lengthAdjust="spacingAndGlyphs" text-anchor="end">10</text>
<text x="38.6" y="714.9" font-size="12" textLength="5.8" lengthAdjust="spacingAndGlyphs">0</text>
<text x="90.2" y="721.5" font-size="12.2" textLength="10.8" lengthAdjust="spacingAndGlyphs" text-anchor="end">10</text>
<text x="90.9" y="714.9" font-size="12" textLength="5.8" lengthAdjust="spacingAndGlyphs">1</text>
<text x="142.5" y="721.5" font-size="12.2" textLength="10.8" lengthAdjust="spacingAndGlyphs" text-anchor="end">10</text>
<text x="143.2" y="714.9" font-size="12" textLength="5.8" lengthAdjust="spacingAndGlyphs">2</text>
<text x="194.7" y="721.5" font-size="12.2" textLength="10.8" lengthAdjust="spacingAndGlyphs" text-anchor="end">10</text>
<text x="195.4" y="714.9" font-size="12" textLength="5.8" lengthAdjust="spacingAndGlyphs">3</text>
<text x="247" y="721.5" font-size="12.2" textLength="10.8" lengthAdjust="spacingAndGlyphs" text-anchor="end">10</text>
<text x="247.7" y="714.9" font-size="12" textLength="5.8" lengthAdjust="spacingAndGlyphs">4</text>
<text x="129.9" y="733.1" font-size="12" textLength="17.2" lengthAdjust="spacingAndGlyphs">FL1</text>
<text transform="translate(24.9 701) rotate(-90) scale(.935 1)" font-size="12.4" text-anchor="middle">0</text>
<text transform="translate(24.9 668) rotate(-90) scale(.935 1)" font-size="12.4" text-anchor="middle">5</text>
<text transform="translate(24.9 635) rotate(-90) scale(.935 1)" font-size="12.4" text-anchor="middle">10</text>
<text transform="translate(24.9 602) rotate(-90) scale(.935 1)" font-size="12.4" text-anchor="middle">15</text>
<text transform="translate(24.9 569) rotate(-90) scale(.935 1)" font-size="12.4" text-anchor="middle">20</text>
<text transform="translate(24.9 536) rotate(-90) scale(.935 1)" font-size="12.4" text-anchor="middle">25</text>
<text transform="translate(24.9 502.9) rotate(-90) scale(.935 1)" font-size="12.4" text-anchor="middle">30</text>
<text transform="translate(11.5 603.8) rotate(-90) scale(.935 1)" font-size="12.4" text-anchor="middle">Counts</text>
<text class="t" x="180.2" y="517.2" font-size="15" textLength="55.2" lengthAdjust="spacingAndGlyphs">LA18.18</text>
<text class="t" x="173.4" y="530.3" font-size="15" textLength="69.7" lengthAdjust="spacingAndGlyphs">anti-RhAG</text>
</g>
<g>
<polyline points="300,687.4 301,693 315,695 338,695 338.2,687.4 345.6,687.4 345.6,690 338.2,690 345.6,690 345.6,692.5 338.2,692.5 345.6,692.5 345.6,694.8 338.2,694.8 346.4,683.3 348.8,685.8 352.1,687.4 355.4,684 358.6,687.4 361.9,684 363.6,684" fill="none" stroke="#111" stroke-width="1.6" stroke-dasharray="1.3 1.1"/>
<polyline points="368.5,681.7 368.5,681.7 371.7,680.9 374.9,673 377,668.8 382.3,668.8 385.5,663.5 387,657 387.5,657" fill="none" stroke="#111" stroke-width="1.6" stroke-dasharray="1.3 1.1"/>
<polyline points="391,667.7 391.8,667.7 395.4,663.5 396,663.5" fill="none" stroke="#111" stroke-width="1.6" stroke-dasharray="1.3 1.1"/>
<polyline points="401.3,652.9 401.3,652.9 404.5,650.8 407.7,657 409.8,651.8 413,648.7 415.1,652.9 416.2,633.8 419.3,631.7 420.4,621.2 422.5,612.7 422.9,608.5 425.7,606.3 426.4,605 426.9,591.3 426.9,587.7" fill="none" stroke="#111" stroke-width="1.6" stroke-dasharray="1.3 1.1"/>
<polyline points="429.5,571 430,569.4 431,556.6 431,553" fill="none" stroke="#111" stroke-width="1.6" stroke-dasharray="1.3 1.1"/>
<polyline points="434.6,548 434.6,543.8 435,530 436.4,526.5 436.4,538" fill="none" stroke="#111" stroke-width="1.6" stroke-dasharray="1.3 1.1"/>
<polyline points="443.4,555 439.2,563 440.5,554.8 441.9,538.4 443.4,556.6 444.7,551 445.6,551" fill="none" stroke="#111" stroke-width="1.6" stroke-dasharray="1.3 1.1"/>
<polyline points="448.3,551 448.3,551 450.1,553.9 451.1,564 452,573 452.9,582 452.9,582" fill="none" stroke="#111" stroke-width="1.6" stroke-dasharray="1.3 1.1"/>
<polyline points="455.6,591.3 455.6,591.3 455.7,601.4 455.7,601.4" fill="none" stroke="#111" stroke-width="1.6" stroke-dasharray="1.3 1.1"/>
<polyline points="458.5,607 460.2,608 460.6,629.2 461.9,632.5 462.7,650.5 464.3,663.6 464.7,680 466.8,683.2 468.4,676.6 469.6,691.3 471.7,694.6 473.3,688 474.1,693.8 478.2,694.6 478.7,701" fill="none" stroke="#111" stroke-width="1.6" stroke-dasharray="1.3 1.1"/>
<path d="M297.6 674.4V684.2M298.8 674.4V687.4M300 674.4V686.7M363.6 669.6V682.1M366.1 669.6V686M368.5 669.6V682.1M387.5 655.2V667.7M391 657.6V667.7M396 645.6V666M398.6 648V667.7M401.3 645.6V664.7M426.9 568.8V587.7M429.5 571.2V587.7M431 547.2V553M432.8 547.2V553M434.6 547.2V553M436.4 537.6V553.4M438.7 537.6V555M441.1 537.6V553.2M443.4 537.6V555M445.6 532.8V548M448.3 535.2V551M452.9 580.8V590.8M455.6 580.8V591.3M455.7 600V607M458.5 600V607" fill="none" stroke="#111" stroke-width="1.8" stroke-dasharray="1.3 1.1"/>
<path d="M497.8 695.5L497.8 698.5" stroke="#1a1a1a" stroke-width="1.2" fill="none"/>
<polyline points="297.8,700 298.2,677.6 299,687.4 300.6,694 302.3,700.5 303.9,694.8 310,694.3 311.2,700.5 312.4,694.3 316.2,694.3 317.8,688.2 319.4,694.3 326.8,694.3 328.9,688.2 330.5,694.3 332.2,688.2 333.8,694.3 336.6,694.3 338.2,687.4 339,683.3 343.1,682.5 345.2,676 346.9,682.5 348.8,677.6 350.6,669.8 352.3,663.5 354.4,662.4 355.9,650.8 357.3,663.5 359,663.5 360.7,639 362.2,650.8 363.7,638 365.4,644.4 367.1,627.5 368.6,612.7 369.6,605 370,588.9 371.3,599.4 372.8,620 373.3,593 373.8,580.4 374.9,569.8 376.4,563.5 377.7,588.9 378.7,559.2 380.2,538 381.3,542.3 382.3,525.4 383.8,513.8 384.8,527.5 386.1,545.5 387,519 388.7,503.2 389.7,521.2 390.8,531.7 391.8,538 392.9,550.8 393.9,507.4 395,563.5 396.1,531.7 397.1,546.5 398.2,540.2 399.7,550.8 400.9,563.5 402,574 403,588.9 404.5,595.2 405.2,606.3 406.6,621.2 408.1,629.6 409.4,642.3 410.9,631.7 412.4,646.5 414,663.5 415.7,650.8 417.2,657 418.7,669.8 420.4,678.3 421.4,683.6 422.5,678.3 424.2,682.5 433.3,683.2 434.9,688 437.4,693.8 439,693.8 441.1,688 443.1,693.8 451.2,694.6 452.9,701.5 454.5,701.5 456.2,695.4 457.8,701.5 459.7,695.4 461.9,701.5 509,701.5" fill="none" stroke="#111" stroke-width="1.4" stroke-linejoin="miter"/>
<path d="M297.2 502.6V701.9H509.5V502.6H297.2" fill="none" stroke="#111" stroke-width="1.5"/>
<path d="M297.2 700.8h-6M297.2 688.4h-3.1M297.2 676h-3.1M297.2 663.7h-3.1M297.2 651.3h-3.1M297.2 638.9h-6M297.2 626.5h-3.1M297.2 614.1h-3.1M297.2 601.8h-3.1M297.2 589.4h-3.1M297.2 577h-6M297.2 564.6h-3.1M297.2 552.2h-3.1M297.2 539.9h-3.1M297.2 527.5h-3.1M297.2 515.1h-6M297.2 502.7h-3.1" stroke="#111" stroke-width="1.1" fill="none"/>
<path d="M297.7 701.9v6.2M313.5 701.9v3.4M322.8 701.9v3.4M329.4 701.9v3.4M334.4 701.9v3.4M338.6 701.9v3.4M342.1 701.9v3.4M345.2 701.9v3.4M347.9 701.9v3.4M350.3 701.9v6.2M366.1 701.9v3.4M375.4 701.9v3.4M381.9 701.9v3.4M387 701.9v3.4M391.2 701.9v3.4M394.7 701.9v3.4M397.8 701.9v3.4M400.4 701.9v3.4M402.9 701.9v6.2M418.7 701.9v3.4M427.9 701.9v3.4M434.5 701.9v3.4M439.6 701.9v3.4M443.8 701.9v3.4M447.3 701.9v3.4M450.3 701.9v3.4M453 701.9v3.4M455.4 701.9v6.2M471.3 701.9v3.4M480.5 701.9v3.4M487.1 701.9v3.4M492.2 701.9v3.4M496.3 701.9v3.4M499.9 701.9v3.4M502.9 701.9v3.4M505.6 701.9v3.4M508 701.9v6.2" stroke="#111" stroke-width="1.1" fill="none"/>
<text x="300.3" y="721.6" font-size="12.2" textLength="10.8" lengthAdjust="spacingAndGlyphs" text-anchor="end">10</text>
<text x="301" y="715" font-size="12" textLength="5.8" lengthAdjust="spacingAndGlyphs">0</text>
<text x="352.9" y="721.6" font-size="12.2" textLength="10.8" lengthAdjust="spacingAndGlyphs" text-anchor="end">10</text>
<text x="353.6" y="715" font-size="12" textLength="5.8" lengthAdjust="spacingAndGlyphs">1</text>
<text x="405.5" y="721.6" font-size="12.2" textLength="10.8" lengthAdjust="spacingAndGlyphs" text-anchor="end">10</text>
<text x="406.2" y="715" font-size="12" textLength="5.8" lengthAdjust="spacingAndGlyphs">2</text>
<text x="458" y="721.6" font-size="12.2" textLength="10.8" lengthAdjust="spacingAndGlyphs" text-anchor="end">10</text>
<text x="458.7" y="715" font-size="12" textLength="5.8" lengthAdjust="spacingAndGlyphs">3</text>
<text x="510.6" y="721.6" font-size="12.2" textLength="10.8" lengthAdjust="spacingAndGlyphs" text-anchor="end">10</text>
<text x="511.3" y="715" font-size="12" textLength="5.8" lengthAdjust="spacingAndGlyphs">4</text>
<text x="392.9" y="733.2" font-size="12" textLength="17.2" lengthAdjust="spacingAndGlyphs">FL1</text>
<text transform="translate(287.3 701) rotate(-90) scale(.935 1)" font-size="12.4" text-anchor="middle">0</text>
<text transform="translate(287.3 639.1) rotate(-90) scale(.935 1)" font-size="12.4" text-anchor="middle">10</text>
<text transform="translate(287.3 577.2) rotate(-90) scale(.935 1)" font-size="12.4" text-anchor="middle">20</text>
<text transform="translate(287.3 515.3) rotate(-90) scale(.935 1)" font-size="12.4" text-anchor="middle">30</text>
<text transform="translate(273.9 604) rotate(-90) scale(.935 1)" font-size="12.4" text-anchor="middle">Counts</text>
<text class="t" x="442.9" y="518.3" font-size="15" textLength="57.2" lengthAdjust="spacingAndGlyphs">LA18.18</text>
<text class="t" x="437.1" y="531" font-size="15" textLength="69" lengthAdjust="spacingAndGlyphs">anti-RhAG</text>
</g>
<path d="M18.8 759.6H120" stroke="#111" stroke-width="1.5"/>
<path d="M18.8 777.6H120" stroke="#111" stroke-width="1.5" stroke-dasharray="1.3 1.2"/>
<path d="M278.8 760H379.6" stroke="#111" stroke-width="1.5"/>
<path d="M278.8 778H379.6" stroke="#111" stroke-width="1.5" stroke-dasharray="1.3 1.2"/>
<text class="t" x="125.4" y="765.8" font-size="15" textLength="97.2" lengthAdjust="spacingAndGlyphs">= K562/D+pBn</text>
<text class="t" x="125.4" y="781.1" font-size="15" textLength="110.8" lengthAdjust="spacingAndGlyphs">= K562/D+B3EQ</text>
<text class="t" x="385.4" y="766.1" font-size="15" textLength="104.8" lengthAdjust="spacingAndGlyphs">= K562/cE+pBn</text>
<text class="t" x="385.4" y="781.8" font-size="15" textLength="118.8" lengthAdjust="spacingAndGlyphs">= K562/cE+B3EQ</text>
</svg></body></html>
